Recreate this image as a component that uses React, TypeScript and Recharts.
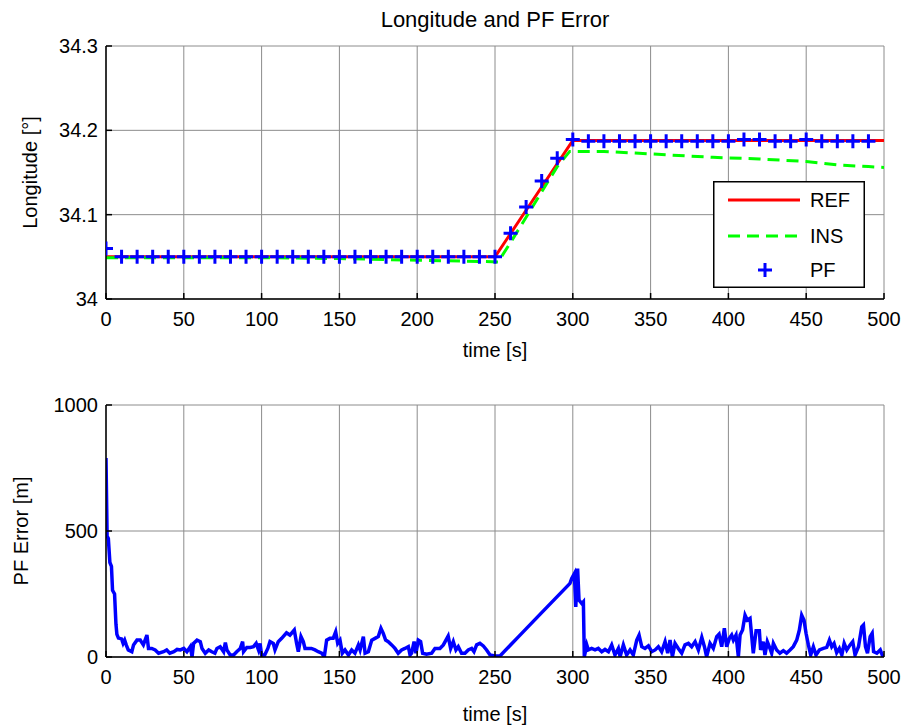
import { LineChart, Line, XAxis, YAxis, CartesianGrid, Legend } from "recharts";

// axis ticks
const timeTicks = [0, 50, 100, 150, 200, 250, 300, 350, 400, 450, 500];
const lonTicks = [34, 34.1, 34.2, 34.3];
const errTicks = [0, 500, 1000];

// reference trajectory
const refTime = [0, 250, 300, 500];
const refLon = [34.05, 34.05, 34.188, 34.188];

// INS estimate
const insTime = [0, 100, 150, 200, 230, 252, 260, 270, 280, 290, 298, 320, 340, 360, 390, 420, 450, 470, 490, 500];
const insLon = [
  34.049, 34.049, 34.048, 34.046, 34.045, 34.044, 34.067, 34.097, 34.127, 34.157,
  34.175, 34.175, 34.173, 34.171, 34.168, 34.166, 34.163, 34.159, 34.157, 34.156,
];

// particle filter estimate (one marker every 10 s)
const pfTime = [
  0, 10, 20, 30, 40, 50, 60, 70, 80, 90,
  100, 110, 120, 130, 140, 150, 160, 170, 180, 190,
  200, 210, 220, 230, 240, 250, 260, 270, 280, 290,
  300, 310, 320, 330, 340, 350, 360, 370, 380, 390,
  400, 410, 420, 430, 440, 450, 460, 470, 480, 490,
];
const pfLon = [
  34.06, 34.05, 34.05, 34.05, 34.05, 34.05, 34.05, 34.05, 34.05, 34.05,
  34.05, 34.05, 34.05, 34.05, 34.05, 34.05, 34.05, 34.05, 34.05, 34.05,
  34.05, 34.05, 34.05, 34.05, 34.05, 34.05, 34.078, 34.109, 34.14, 34.167,
  34.189, 34.187, 34.187, 34.187, 34.187, 34.187, 34.187, 34.187, 34.187, 34.187,
  34.187, 34.189, 34.189, 34.187, 34.187, 34.189, 34.187, 34.187, 34.187, 34.187,
];

// PF position error
const errTime = [
  0, 0.7, 1.5, 2.5, 3.5, 4.2, 5.5, 6.4, 7, 8,
  10, 11, 12, 13, 14.3, 16.6, 17.7, 19.9, 22, 24,
  26.3, 27.3, 29.4, 31.6, 33.8, 37, 39, 41, 43.6, 45.7,
  47.8, 50, 52, 54.2, 55.3, 56.3, 58.5, 60.6, 61.7, 63.8,
  66, 68, 70, 71.3, 73.4, 75.6, 76.7, 77.7, 79.8, 82,
  84, 86.3, 87.8, 88.4, 90.5, 92.7, 94.8, 96.5, 98, 99,
  100, 102, 104, 105.4, 107.5, 108.6, 110.7, 112.9, 116, 118.2,
  121, 122.5, 123.6, 125.3, 126.8, 127.9, 130, 132, 134.3, 136.4,
  138.6, 140.3, 141.8, 143.9, 146, 147.6, 148.9, 150.4, 151.9, 153.6,
  155.8, 157.9, 160, 162.2, 163.3, 165.4, 166.5, 168.6, 170.8, 172.9,
  175, 176.7, 178.2, 179.7, 181.4, 183.6, 185.7, 187.8, 190, 192.1,
  194.3, 195.4, 196.4, 198, 199.2, 200.7, 202.2, 203.5, 206, 209.3,
  211.4, 214.6, 216.8, 219.9, 221.5, 223.2, 224.9, 226.4, 228.5, 230.7,
  232.8, 235, 236.5, 238.2, 240.3, 242.5, 244.6, 246.8, 250, 253.2,
  265, 280, 298.2, 299.3, 301, 301.9, 303.1, 304, 305.8, 306.8,
  307.4, 309, 310, 312.1, 314.3, 316.4, 318.6, 320.7, 322.9, 325,
  327.1, 329.3, 330.4, 332.5, 334.6, 336.8, 338.9, 341.1, 342.6, 344.3,
  346.4, 348.6, 350.7, 352.9, 355, 357.1, 359.3, 361, 362.5, 364,
  365.7, 367.8, 370, 372.1, 374.3, 376.4, 378.6, 380.7, 382.9, 384.6,
  386, 388.2, 390.3, 392.5, 394, 395.7, 397.4, 398.9, 400.6, 402.1,
  403.2, 404.9, 406.4, 407.5, 409.1, 410.7, 412.2, 413.9, 415, 416,
  417.8, 419.9, 420.7, 422.4, 423.5, 425, 426.7, 427.8, 428.9, 431,
  433.1, 435.3, 437.4, 439.6, 441.7, 443.9, 445.6, 447.1, 448.6, 449.9,
  451.4, 452.9, 454.6, 456.3, 458.5, 461, 463.2, 464.9, 466.4, 467.9,
  469.6, 471.3, 472.9, 474.4, 476.1, 478.2, 479.9, 481.4, 483.6, 485.7,
  486.8, 488.1, 489.4, 491.1, 492.4, 493.3, 495.4, 497.6, 499.3, 500,
];
const errVal = [
  790, 480, 470, 375, 360, 265, 250, 130, 90, 75,
  72, 54, 67, 48, 28, 21, 48, 67, 67, 48,
  87, 34, 34, 28, 15, 21, 28, 15, 21, 30,
  28, 34, 21, 41, 1, 54, 67, 61, 34, 15,
  28, 21, 15, 34, 41, 21, 57, 28, 8, 8,
  21, 34, 61, 21, 38, 38, 41, 54, 28, 54,
  8, 8, 34, 61, 54, 28, 61, 74, 96, 87,
  107, 54, 21, 81, 61, 34, 34, 34, 28, 21,
  15, 1, 67, 74, 74, 100, 54, 67, 15, 28,
  8, 28, 15, 48, 28, 81, 15, 21, 67, 74,
  81, 114, 94, 67, 61, 48, 34, 15, 28, 34,
  41, 8, 15, 61, 15, 67, 61, 15, 11, 15,
  34, 34, 48, 83, 34, 61, 28, 41, 15, 15,
  28, 34, 21, 48, 54, 44, 28, 8, 4, 4,
  80, 176, 292, 312, 331, 199, 351, 226, 212, 219,
  1, 48, 28, 34, 28, 34, 21, 30, 21, 48,
  8, 34, 1, 48, 8, 28, 8, 67, 87, 41,
  34, 44, 21, 28, 41, 21, 61, 15, 67, 1,
  54, 34, 15, 48, 54, 41, 61, 28, 78, 41,
  1, 54, 34, 81, 91, 41, 114, 41, 74, 87,
  67, 87, 1, 87, 107, 166, 146, 153, 81, 15,
  104, 104, 28, 61, 8, 61, 34, 15, 54, 28,
  15, 25, 15, 28, 41, 67, 107, 166, 146, 94,
  48, 8, 41, 8, 28, 34, 38, 67, 41, 54,
  17, 34, 8, 54, 28, 48, 61, 8, 41, 120,
  127, 41, 15, 81, 94, 21, 15, 28, 1, 5,
];

const toPoints = (ts: number[], vs: number[]) => ts.map((t, i) => ({ t, v: vs[i] }));

const refData = toPoints(refTime, refLon);
const insData = toPoints(insTime, insLon);
const pfData = toPoints(pfTime, pfLon);
const errData = toPoints(errTime, errVal);

const FONT = "Arial, 'Liberation Sans', Helvetica, sans-serif";
const tickStyle = { fill: "#000", fontSize: 20, fontFamily: FONT };
const labelStyle = { fill: "#000", fontSize: 20, fontFamily: FONT };
const axisLine = { stroke: "#000", strokeWidth: 1.5 };
const tickLine = { stroke: "#000", strokeWidth: 1.5 };

const PlusDot = (props: any) => {
  const { cx, cy } = props;
  if (cx == null || cy == null) return null;
  return (
    <path
      d={`M${cx - 7},${cy}H${cx + 7}M${cx},${cy - 7}V${cy + 7}`}
      stroke="#0000ff"
      strokeWidth={3}
      fill="none"
    />
  );
};

const LegendBox = () => (
  <svg width={152} height={107} style={{ display: "block", background: "#fff" }}>
    <rect x={0.75} y={0.75} width={150.5} height={105.5} fill="#fff" stroke="#000" strokeWidth={1.5} />
    <line x1={15} y1={19} x2={87} y2={19} stroke="#ff0000" strokeWidth={3} />
    <text x={97} y={26} style={labelStyle}>REF</text>
    <line x1={15} y1={55} x2={87} y2={55} stroke="#00ff00" strokeWidth={3} strokeDasharray="12 7" />
    <text x={97} y={62} style={labelStyle}>INS</text>
    <PlusDot cx={52} cy={89} />
    <text x={97} y={96} style={labelStyle}>PF</text>
  </svg>
);

export default function App() {
  return (
    <div style={{ position: "absolute", left: 0, top: 0, width: 912, height: 725, background: "#fff" }}>
      <div
        style={{
          position: "absolute",
          left: 245,
          width: 500,
          top: 6,
          textAlign: "center",
          fontFamily: FONT,
          fontSize: 22,
          lineHeight: "28px",
          color: "#000",
        }}
      >
        Longitude and PF Error
      </div>

      <div style={{ position: "absolute", left: 0, top: 0 }}>
        <LineChart width={912} height={362} margin={{ top: 46, right: 28, bottom: 0, left: 0 }}>
          <CartesianGrid stroke="#8c8c8c" strokeWidth={1} />
          <XAxis
            type="number"
            dataKey="t"
            domain={[0, 500]}
            ticks={timeTicks}
            height={63}
            tickSize={-6}
            tickMargin={19}
            tick={tickStyle}
            axisLine={axisLine}
            tickLine={tickLine}
            allowDataOverflow
            label={{ value: "time [s]", position: "insideBottom", offset: 5, style: labelStyle }}
          />
          <XAxis
            xAxisId="top"
            orientation="top"
            type="number"
            domain={[0, 500]}
            ticks={timeTicks}
            height={0}
            tickSize={-6}
            tick={false}
            axisLine={axisLine}
            tickLine={tickLine}
            allowDataOverflow
          />
          <YAxis
            type="number"
            domain={[34, 34.3]}
            ticks={lonTicks}
            width={106}
            tickSize={-6}
            tickMargin={14}
            tick={tickStyle}
            axisLine={axisLine}
            tickLine={tickLine}
            allowDataOverflow
            label={{
              value: "Longitude [°]",
              angle: -90,
              position: "insideLeft",
              offset: 30,
              style: { ...labelStyle, textAnchor: "middle" },
            }}
          />
          <YAxis
            yAxisId="right"
            orientation="right"
            type="number"
            domain={[34, 34.3]}
            ticks={lonTicks}
            width={0}
            tickSize={-6}
            tick={false}
            axisLine={axisLine}
            tickLine={tickLine}
            allowDataOverflow
          />
          <Legend
            layout="vertical"
            align="center"
            verticalAlign="middle"
            content={() => <LegendBox />}
            wrapperStyle={{ left: 713, top: 181, width: 152, height: 107 }}
          />
          <Line
            data={refData}
            dataKey="v"
            type="linear"
            stroke="#ff0000"
            strokeWidth={3}
            dot={false}
            isAnimationActive={false}
          />
          <Line
            data={insData}
            dataKey="v"
            type="linear"
            stroke="#00ff00"
            strokeWidth={3}
            strokeDasharray="12 7"
            dot={false}
            isAnimationActive={false}
          />
          <Line
            data={pfData}
            dataKey="v"
            type="linear"
            stroke="none"
            strokeWidth={0}
            dot={(p: any) => <PlusDot key={`pf-${p.index}`} {...p} />}
            isAnimationActive={false}
          />
        </LineChart>
      </div>

      <div style={{ position: "absolute", left: 0, top: 360 }}>
        <LineChart width={912} height={365} margin={{ top: 45, right: 28, bottom: 0, left: 0 }}>
          <CartesianGrid stroke="#8c8c8c" strokeWidth={1} />
          <XAxis
            type="number"
            dataKey="t"
            domain={[0, 500]}
            ticks={timeTicks}
            height={68}
            tickSize={-6}
            tickMargin={19}
            tick={tickStyle}
            axisLine={axisLine}
            tickLine={tickLine}
            allowDataOverflow
            label={{ value: "time [s]", position: "insideBottom", offset: 4, style: labelStyle }}
          />
          <XAxis
            xAxisId="top"
            orientation="top"
            type="number"
            domain={[0, 500]}
            ticks={timeTicks}
            height={0}
            tickSize={-6}
            tick={false}
            axisLine={axisLine}
            tickLine={tickLine}
            allowDataOverflow
          />
          <YAxis
            type="number"
            domain={[0, 1000]}
            ticks={errTicks}
            width={106}
            tickSize={-6}
            tickMargin={14}
            tick={tickStyle}
            axisLine={axisLine}
            tickLine={tickLine}
            allowDataOverflow
            label={{
              value: "PF Error [m]",
              angle: -90,
              position: "insideLeft",
              offset: 21,
              style: { ...labelStyle, textAnchor: "middle" },
            }}
          />
          <YAxis
            yAxisId="right"
            orientation="right"
            type="number"
            domain={[0, 1000]}
            ticks={errTicks}
            width={0}
            tickSize={-6}
            tick={false}
            axisLine={axisLine}
            tickLine={tickLine}
            allowDataOverflow
          />
          <Line
            data={errData}
            dataKey="v"
            type="linear"
            stroke="#0000ff"
            strokeWidth={3.5}
            dot={false}
            isAnimationActive={false}
          />
        </LineChart>
      </div>
    </div>
  );
}
